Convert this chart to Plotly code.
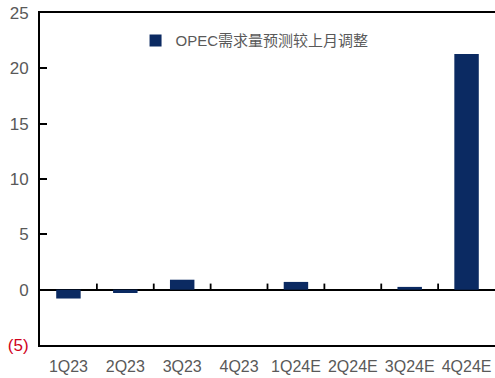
import plotly.graph_objects as go

categories = ["1Q23", "2Q23", "3Q23", "4Q23", "1Q24E", "2Q24E", "3Q24E", "4Q24E"]
values = [-0.8, -0.3, 0.9, 0.0, 0.7, 0.0, 0.25, 21.3]
series_name = "OPEC需求量预测较上月调整"
y_tickvals = [-5, 0, 5, 10, 15, 20, 25]
y_ticktext = ['<span style="color:#d0021b">(5)</span>', "0", "5", "10", "15", "20", "25"]

bar_color = "#0b2a62"
gray = "#595959"
font_family = "Liberation Sans, Arial, Noto Sans CJK SC, sans-serif"

positions = list(range(len(categories)))
boundaries = [p + 0.5 for p in positions[:-1]]
tick_height = 0.55  # data units, about 6px

# vertical tick segments at category boundaries on the zero line
seg_x, seg_y = [], []
for b in boundaries:
    seg_x += [b, b, None]
    seg_y += [0, tick_height, None]

fig = go.Figure()
fig.add_trace(go.Bar(x=positions, y=values, name=series_name,
                     marker=dict(color=bar_color, line=dict(width=0)),
                     width=0.43, showlegend=True))
fig.add_trace(go.Scatter(x=seg_x, y=seg_y, mode="lines",
                         line=dict(color="black", width=1.8),
                         showlegend=False, hoverinfo="skip",
                         connectgaps=False))

fig.update_layout(
    width=495, height=378,
    margin=dict(l=40, r=0, t=13, b=33),
    paper_bgcolor="white", plot_bgcolor="white",
    font=dict(family=font_family, size=16, color=gray),
    showlegend=True,
    legend=dict(x=0.21, y=0.966, xanchor="left", yanchor="top",
                bgcolor="rgba(0,0,0,0)",
                font=dict(size=15, color=gray,
                          family="Liberation Sans, Noto Sans CJK SC, sans-serif"),
                itemwidth=30, tracegroupgap=0),
    xaxis=dict(range=[-0.5, len(categories) - 0.5], tickvals=positions,
               ticktext=categories, showline=True, linecolor="black",
               linewidth=2, mirror=True, ticks="", showgrid=False,
               zeroline=False, tickfont=dict(size=16, color=gray),
               ticklabelstandoff=6),
    yaxis=dict(range=[-5, 25], tickvals=y_tickvals, ticktext=y_ticktext,
               showline=True, linecolor="black", linewidth=2,
               ticks="inside", ticklen=7, tickwidth=1.8, tickcolor="black",
               showgrid=False, zeroline=True, zerolinecolor="black",
               zerolinewidth=1.5, tickfont=dict(size=17, color=gray),
               ticklabelstandoff=6, ticklabeloverflow="allow"),
)

fig.write_html("out.html", config={"displayModeBar": False},
               post_script="document.body.style.margin='0';")
